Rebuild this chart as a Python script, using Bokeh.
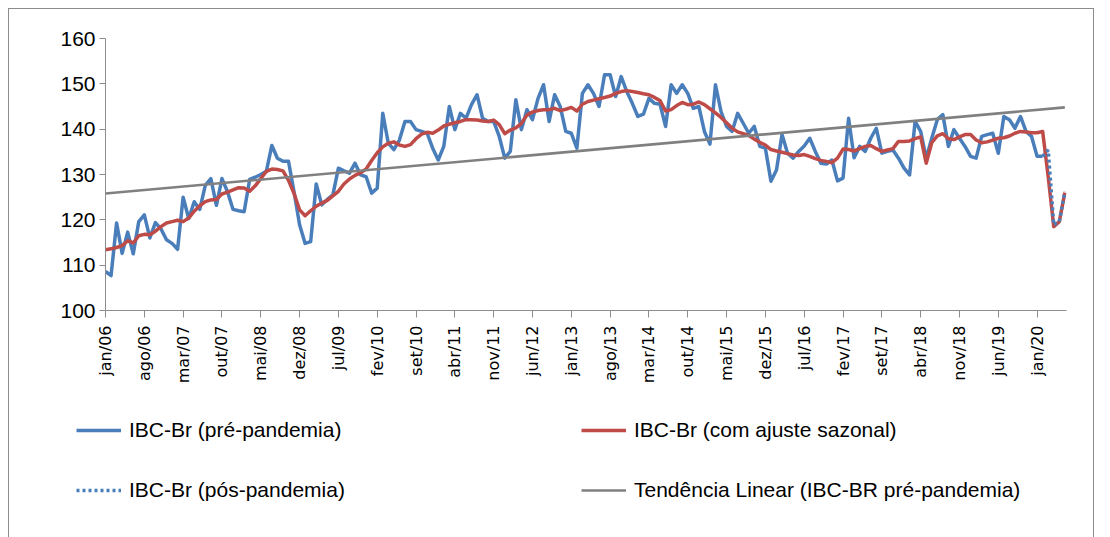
import numpy as np
from bokeh.plotting import figure
from bokeh.models import Range1d, FixedTicker, Legend, LegendItem
from bokeh.embed import file_html
from bokeh.resources import INLINE

# ---------------- data ----------------
mes_abrev = ["jan", "fev", "mar", "abr", "mai", "jun", "jul", "ago", "set", "out", "nov", "dez"]
anos = list(range(2006, 2021))
meses = [f"{m}/{str(a)[2:]}" for a in anos for m in mes_abrev][:174]   # jan/06 .. jun/20

# IBC-Br sem ajuste (pré-pandemia): jan/06 .. fev/20
ibc_pre = [
    108.6, 107.7, 119.3, 112.6, 117.3, 112.5, 119.6, 121.1, 116.0, 119.4, 118.0, 115.6,
    114.8, 113.5, 125.0, 120.3, 124.0, 122.3, 127.6, 129.1, 123.2, 129.1, 126.2, 122.3,
    122.0, 121.8, 128.9, 129.4, 130.0, 130.7, 136.4, 133.6, 132.9, 132.9, 126.2, 118.9,
    114.8, 115.2, 127.9, 123.3, 124.5, 125.5, 131.4, 130.8, 130.3, 132.5, 129.9, 129.5,
    125.9, 127.0, 143.5, 136.9, 135.5, 137.6, 141.7, 141.7, 139.9, 139.5, 139.1, 135.8,
    133.2, 136.2, 145.0, 139.9, 143.5, 142.4, 145.4, 147.6, 142.4, 141.7, 141.7, 138.4,
    133.6, 135.1, 146.5, 139.9, 144.3, 142.1, 146.8, 149.8, 141.7, 147.6, 145.0, 139.5,
    139.1, 135.8, 147.9, 149.8, 147.9, 145.0, 152.0, 152.0, 147.2, 151.6, 148.3, 145.7,
    142.8, 143.3, 146.8, 145.7, 145.5, 140.6, 149.8, 147.9, 149.8, 147.9, 144.6, 145.0,
    139.5, 136.7, 149.8, 143.9, 140.6, 139.5, 143.5, 141.3, 139.1, 140.6, 136.2, 135.8,
    128.5, 131.0, 138.8, 134.7, 133.6, 135.1, 136.3, 138.0, 135.1, 132.5, 132.3, 133.2,
    128.6, 129.2, 142.4, 133.7, 136.2, 135.1, 138.0, 140.2, 134.7, 135.1, 135.4, 133.6,
    131.4, 129.9, 141.7, 139.5, 133.6, 138.0, 142.1, 143.2, 136.2, 139.9, 138.0, 136.2,
    134.0, 133.6, 138.4, 138.8, 139.1, 134.7, 142.8, 142.1, 140.2, 142.8, 139.5, 138.4,
    134.0, 134.0,
]

# IBC-Br (pós-pandemia): fev/20 .. jun/20
ibc_pos = [134.0, 135.4, 118.9, 119.6, 126.2]

# IBC-Br com ajuste sazonal: jan/06 .. jun/20
ibc_sa = [
    113.4, 113.6, 113.9, 114.3, 115.4, 114.9, 116.5, 116.8, 116.7, 117.5, 118.5, 119.3,
    119.6, 119.9, 119.6, 120.4, 121.9, 123.1, 124.0, 124.4, 124.5, 125.7, 126.1, 126.6,
    127.1, 127.0, 126.3, 127.5, 129.1, 130.7, 131.2, 131.1, 130.8, 128.7, 125.8, 122.2,
    120.9, 122.0, 123.0, 123.7, 124.3, 125.3, 126.3, 127.9, 129.0, 129.8, 130.4, 131.2,
    133.1, 134.8, 136.1, 136.9, 137.2, 136.5, 136.2, 136.6, 137.9, 138.9, 139.3, 139.1,
    139.8, 140.7, 141.1, 141.4, 141.7, 142.1, 142.1, 142.0, 141.8, 141.7, 142.0, 141.0,
    139.0, 139.8, 140.3, 141.3, 143.1, 143.8, 144.1, 144.3, 144.3, 144.6, 144.1, 144.4,
    144.8, 144.0, 145.5, 146.1, 146.4, 146.7, 147.0, 147.3, 147.9, 148.3, 148.5, 148.3,
    148.1, 147.8, 147.6, 147.0, 146.3, 144.0, 144.3, 145.2, 145.9, 145.4, 145.5, 146.0,
    145.4, 144.5, 143.6, 142.6, 141.4, 140.2, 139.4, 139.0, 138.6, 137.8, 137.1, 136.5,
    135.5, 135.2, 134.9, 134.6, 134.3, 134.2, 134.4, 134.0, 133.5, 133.1, 132.9, 132.6,
    133.6, 135.6, 135.5, 135.2, 135.7, 136.2, 136.4, 135.7, 135.1, 135.4, 135.7, 137.3,
    137.3, 137.4, 137.9, 138.3, 132.5, 137.0, 138.5, 139.0, 137.9, 137.7, 138.3, 138.8,
    138.8, 137.6, 137.0, 137.2, 137.6, 138.0, 138.1, 138.5, 139.1, 139.5, 139.4, 139.2,
    139.2, 139.5, 129.5, 118.5, 119.6, 126.0,
]

# Tendência linear (valores lidos no início e no fim do eixo)
tendencia = [125.8, 144.8]

y_ticks = [100, 110, 120, 130, 140, 150, 160]

series_labels = ["IBC-Br (pré-pandemia)", "IBC-Br (com ajuste sazonal)",
                 "IBC-Br (pós-pandemia)", "Tendência Linear (IBC-BR pré-pandemia)"]

# ---------------- positions ----------------
x_pre = list(range(len(ibc_pre)))
x_pos = list(range(len(ibc_pre) - 1, len(ibc_pre) - 1 + len(ibc_pos)))
x_sa = list(range(len(ibc_sa)))
x_tend = [0, len(meses) - 1]
series_xy = [(x_pre, ibc_pre), (x_sa, ibc_sa), (x_pos, ibc_pos), (x_tend, tendencia)]

BLUE = "#4a7ebb"
RED = "#be4b48"
GREY = "#808080"
AXIS = "#8c8c8c"
BORDER = "1px solid #8c8c8c"
SANS = "Liberation Sans"

styles = [
    dict(line_color=BLUE, line_width=3.5, line_join="round"),
    dict(line_color=RED, line_width=3.5, line_join="round"),
    dict(line_color=BLUE, line_width=3.5, line_dash="3 3"),
    dict(line_color=GREY, line_width=2.6),
]

# ---------------- main chart ----------------
p = figure(width=1086, height=380, output_backend="svg", toolbar_location=None,
           x_range=Range1d(0, len(meses) - 1 + 0.3), y_range=Range1d(100, 160),
           min_border_left=96, min_border_right=29, min_border_top=29, min_border_bottom=79)
p.xgrid.visible = False
p.ygrid.visible = False
p.outline_line_color = None
p.background_fill_color = "white"
p.border_fill_color = "white"
p.styles = {"margin-left": "8px", "margin-top": "8px",
            "border-top": BORDER, "border-left": BORDER, "border-right": BORDER}

renderers = [p.line(xs, ys, **st) for (xs, ys), st in zip(series_xy, styles)]

xa = p.xaxis[0]
tick_idx = list(range(0, len(meses), 7))
xa.ticker = FixedTicker(ticks=tick_idx)
xa.major_label_overrides = {i: meses[i] for i in tick_idx}
xa.major_label_orientation = np.pi / 2
xa.axis_line_color = AXIS
xa.major_tick_line_color = AXIS
xa.minor_tick_line_color = None
xa.major_tick_in = 0
xa.major_tick_out = 7
xa.major_label_standoff = 8
xa.major_label_text_font = "DejaVu Sans"
xa.major_label_text_font_size = "16px"
xa.major_label_text_color = "black"

ya = p.yaxis[0]
ya.ticker = FixedTicker(ticks=y_ticks)
ya.axis_line_color = AXIS
ya.major_tick_line_color = AXIS
ya.minor_tick_line_color = None
ya.major_tick_in = 0
ya.major_tick_out = 6
ya.major_label_standoff = 4
ya.major_label_text_font = SANS
ya.major_label_text_font_size = "21px"
ya.major_label_text_color = "black"

# ---------------- legend strip (separate root, no frame alignment) ----------------
pl = figure(width=1086, height=149, output_backend="svg", toolbar_location=None,
            x_range=Range1d(-3, -2), y_range=Range1d(0, 1),
            x_axis_type=None, y_axis_type=None,
            min_border=0, min_border_left=0, min_border_right=0,
            min_border_top=0, min_border_bottom=0)
pl.xgrid.visible = False
pl.ygrid.visible = False
pl.outline_line_color = None
pl.background_fill_color = "white"
pl.border_fill_color = "white"
pl.styles = {"margin-left": "8px", "border-left": BORDER, "border-right": BORDER}

# same series drawn again (outside the strip's visible range) only to feed the legend glyphs
legend_src = [pl.line(xs, ys, **st) for (xs, ys), st in zip(series_xy, styles)]

legend = Legend(items=[LegendItem(label=lab, renderers=[r]) for lab, r in zip(series_labels, legend_src)],
                location=(67, 32), orientation="horizontal", ncols=2)
legend.label_text_font = SANS
legend.label_text_font_size = "21px"
legend.label_text_color = "black"
legend.glyph_width = 45
legend.glyph_height = 30
legend.label_height = 30
legend.label_width = 422
legend.label_standoff = 8
legend.spacing = 30
legend.padding = 0
legend.margin = 0
legend.border_line_color = None
legend.background_fill_alpha = 0
pl.add_layout(legend)

open("out.html", "w").write(file_html([p, pl], INLINE))
